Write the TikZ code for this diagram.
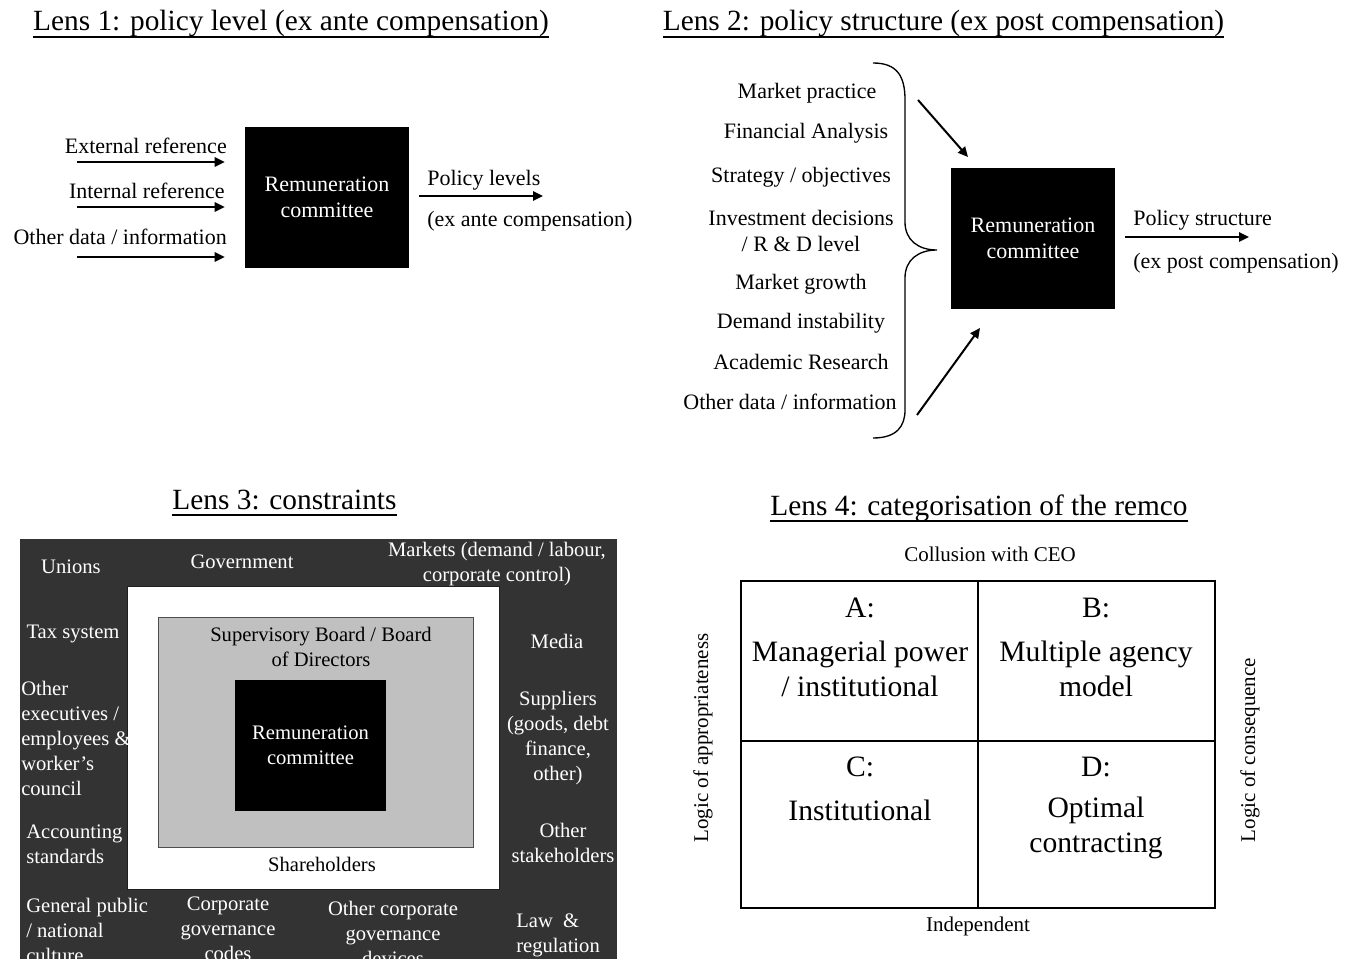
\documentclass[tikz,border=0pt]{standalone}
\usepackage{fontspec}
\setmainfont{Liberation Serif}
\usetikzlibrary{arrows.meta}
\definecolor{envdark}{RGB}{51,51,51}
\definecolor{boardgray}{RGB}{192,192,192}

\begin{document}
\begin{tikzpicture}[x=0.75pt,y=-0.75pt,
  lenstitle/.style={font=\fontsize{22pt}{26pt}\selectfont, inner sep=0pt, anchor=base},
  lbl/.style={font=\fontsize{16.5pt}{19.5pt}\selectfont, inner sep=0pt, align=center, yshift=-1.5pt},
  envtxt/.style={font=\fontsize{15.45pt}{18.75pt}\selectfont, inner sep=0pt, align=center, text=white, yshift=-1.5pt},
  innertxt/.style={font=\fontsize{15.45pt}{18.75pt}\selectfont, inner sep=0pt, align=center, yshift=-0.8pt},
  quadtxt/.style={font=\fontsize{22.2pt}{26.25pt}\selectfont, inner sep=0pt, align=center, yshift=-1.5pt},
  axistxt/.style={font=\fontsize{15.75pt}{19pt}\selectfont, inner sep=0pt},
  remco/.style={fill=black, text=white, minimum width=123pt, minimum height=105.75pt,
    inner sep=0pt, align=center, font=\fontsize{16.5pt}{19.5pt}\selectfont},
  arr/.style={line width=1.5pt, -{Triangle[length=7.5pt,width=7pt]}},
  uline/.style={line width=1.1pt}
]
\clip (0,0) rectangle (1359,959);

% ---------- Lens 1: policy level ----------
\node[lenstitle] (t1) at (291,31) {Lens 1: policy level (ex ante compensation)};
\draw[uline] ([yshift=-4.5pt]t1.base west) -- ([yshift=-4.5pt]t1.base east);

\node[remco] (rc1) at (327,197.5) {Remuneration\\committee};

\node[lbl, anchor=east] (ext) at (227,144) {External reference};
\node[lbl, anchor=east] (int) at (225,189) {Internal reference};
\node[lbl, anchor=east] (oth1) at (227,234.5) {Other data / information};

\coordinate (in1) at (77,162);
\coordinate (in2) at (77,207);
\coordinate (in3) at (77,257);
\draw[arr, shorten >=15pt] (in1) -- (in1 -| rc1.west);
\draw[arr, shorten >=15pt] (in2) -- (in2 -| rc1.west);
\draw[arr, shorten >=15pt] (in3) -- (in3 -| rc1.west);

\coordinate (out1) at (543,196);
\draw[arr, shorten <=7.5pt] (out1 -| rc1.east) -- (out1);
\node[lbl, anchor=west] (pl) at (427,178) {Policy levels};
\node[lbl, anchor=west] (pla) at (427,219) {(ex ante compensation)};

% ---------- Lens 2: policy structure ----------
\node[lenstitle] (t2) at (943.5,31) {Lens 2: policy structure (ex post compensation)};
\draw[uline] ([yshift=-4.5pt]t2.base west) -- ([yshift=-4.5pt]t2.base east);

\node[lbl] (f1) at (807,91) {Market practice};
\node[lbl] (f2) at (806,131) {Financial Analysis};
\node[lbl] (f3) at (801,175) {Strategy / objectives};
\node[lbl] (f4) at (801,229) {Investment decisions\\/ R \& D level};
\node[lbl] (f5) at (801,282) {Market growth};
\node[lbl] (f6) at (801,321) {Demand instability};
\node[lbl] (f7) at (801,360) {Academic Research};
\node[lbl] (f8) at (790,400) {Other data / information};

% curly brace gathering the factors
\draw[line width=1pt] (873,63) .. controls (897,63) and (905,76) .. (905,100)
  -- (905,222) .. controls (905,240) and (918,250) .. (937,250)
  .. controls (918,250) and (905,260) .. (905,278)
  -- (905,410) .. controls (905,426) and (897,438) .. (873,438);

\node[remco] (rc2) at (1033,238.5) {Remuneration\\committee};

\coordinate (d1s) at (918,100);
\coordinate (d1e) at (968,157);
\coordinate (d2s) at (917,415);
\coordinate (d2e) at (980,328);
\draw[arr] (d1s) -- (d1e);
\draw[arr] (d2s) -- (d2e);

\coordinate (out2) at (1249,237);
\draw[arr, shorten <=7.5pt] (out2 -| rc2.east) -- (out2);
\node[lbl, anchor=west] (ps) at (1133,218) {Policy structure};
\node[lbl, anchor=west] (psa) at (1133,261) {(ex post compensation)};

% ---------- Lens 3: constraints ----------
\node[lenstitle] (t3) at (284.5,509) {Lens 3: constraints};
\draw[uline] ([yshift=-4.5pt]t3.base west) -- ([yshift=-4.5pt]t3.base east);

\fill[envdark] (20,539) rectangle (617,975);
\filldraw[fill=white, draw=envdark!60!black, line width=0.6pt] (127,586) rectangle (499,889);
\filldraw[fill=boardgray, draw=black!70, line width=0.6pt] (158,617) rectangle (473,847);
\node[fill=black, text=white, minimum width=113.25pt, minimum height=98.25pt, inner sep=0pt,
  align=center, font=\fontsize{15.45pt}{18.75pt}\selectfont] (rc3) at (310.5,745.5) {Remuneration\\committee};

\node[innertxt] (board) at (321,646) {Supervisory Board / Board\\of Directors};
\node[innertxt] (share) at (322,863) {Shareholders};

\node[envtxt] (unions) at (71,565) {Unions};
\node[envtxt] (gov) at (242,560) {Government};
\node[envtxt] (mkts) at (497,562.5) {Markets (demand / labour,\\corporate control)};
\node[envtxt] (tax) at (73,632) {Tax system};
\node[envtxt, align=left, anchor=west] (othex) at (21,736) {Other\\executives /\\employees \&\\worker's\\council};
\node[envtxt, align=left, anchor=west] (acc) at (26,842) {Accounting\\standards};
\node[envtxt, align=left, anchor=west] (gp) at (26,928) {General public\\/ national\\culture};
\node[envtxt] (cgc) at (228,927) {Corporate\\governance\\codes};
\node[envtxt] (ocg) at (393,931) {Other corporate\\governance\\devices};
\node[envtxt, align=left, anchor=west] (law) at (516,933.5) {Law\ \ \&\\regulation};
\node[envtxt] (media) at (557,639) {Media};
\node[envtxt] (supp) at (558,736.5) {Suppliers\\(goods, debt\\finance,\\other)};
\node[envtxt] (ostk) at (563,840.5) {Other\\stakeholders};

% ---------- Lens 4: categorisation ----------
\node[lenstitle] (t4) at (979,515) {Lens 4: categorisation of the remco};
\draw[uline] ([yshift=-4.5pt]t4.base west) -- ([yshift=-4.5pt]t4.base east);

\node[axistxt] (coll) at (990,554) {Collusion with CEO};
\node[axistxt] (indep) at (978,926) {Independent};
\node[axistxt, rotate=90] (approp) at (703,738) {Logic of appropriateness};
\node[axistxt, rotate=90] (conseq) at (1250,750) {Logic of consequence};

\draw[line width=2.2pt] (741,581) rectangle (1215,908);
\draw[line width=1pt] (978,581) -- (978,908);
\draw[line width=1pt] (741,741) -- (1215,741);

\node[quadtxt] (qa) at (860,606) {A:};
\node[quadtxt] (qat) at (860,666.5) {Managerial power\\/ institutional};
\node[quadtxt] (qb) at (1096,606) {B:};
\node[quadtxt] (qbt) at (1096,666.5) {Multiple agency\\model};
\node[quadtxt] (qc) at (860,765) {C:};
\node[quadtxt] (qct) at (860,808) {Institutional};
\node[quadtxt] (qd) at (1096,765) {D:};
\node[quadtxt] (qdt) at (1096,826) {Optimal\\contracting};
\end{tikzpicture}
\end{document}
